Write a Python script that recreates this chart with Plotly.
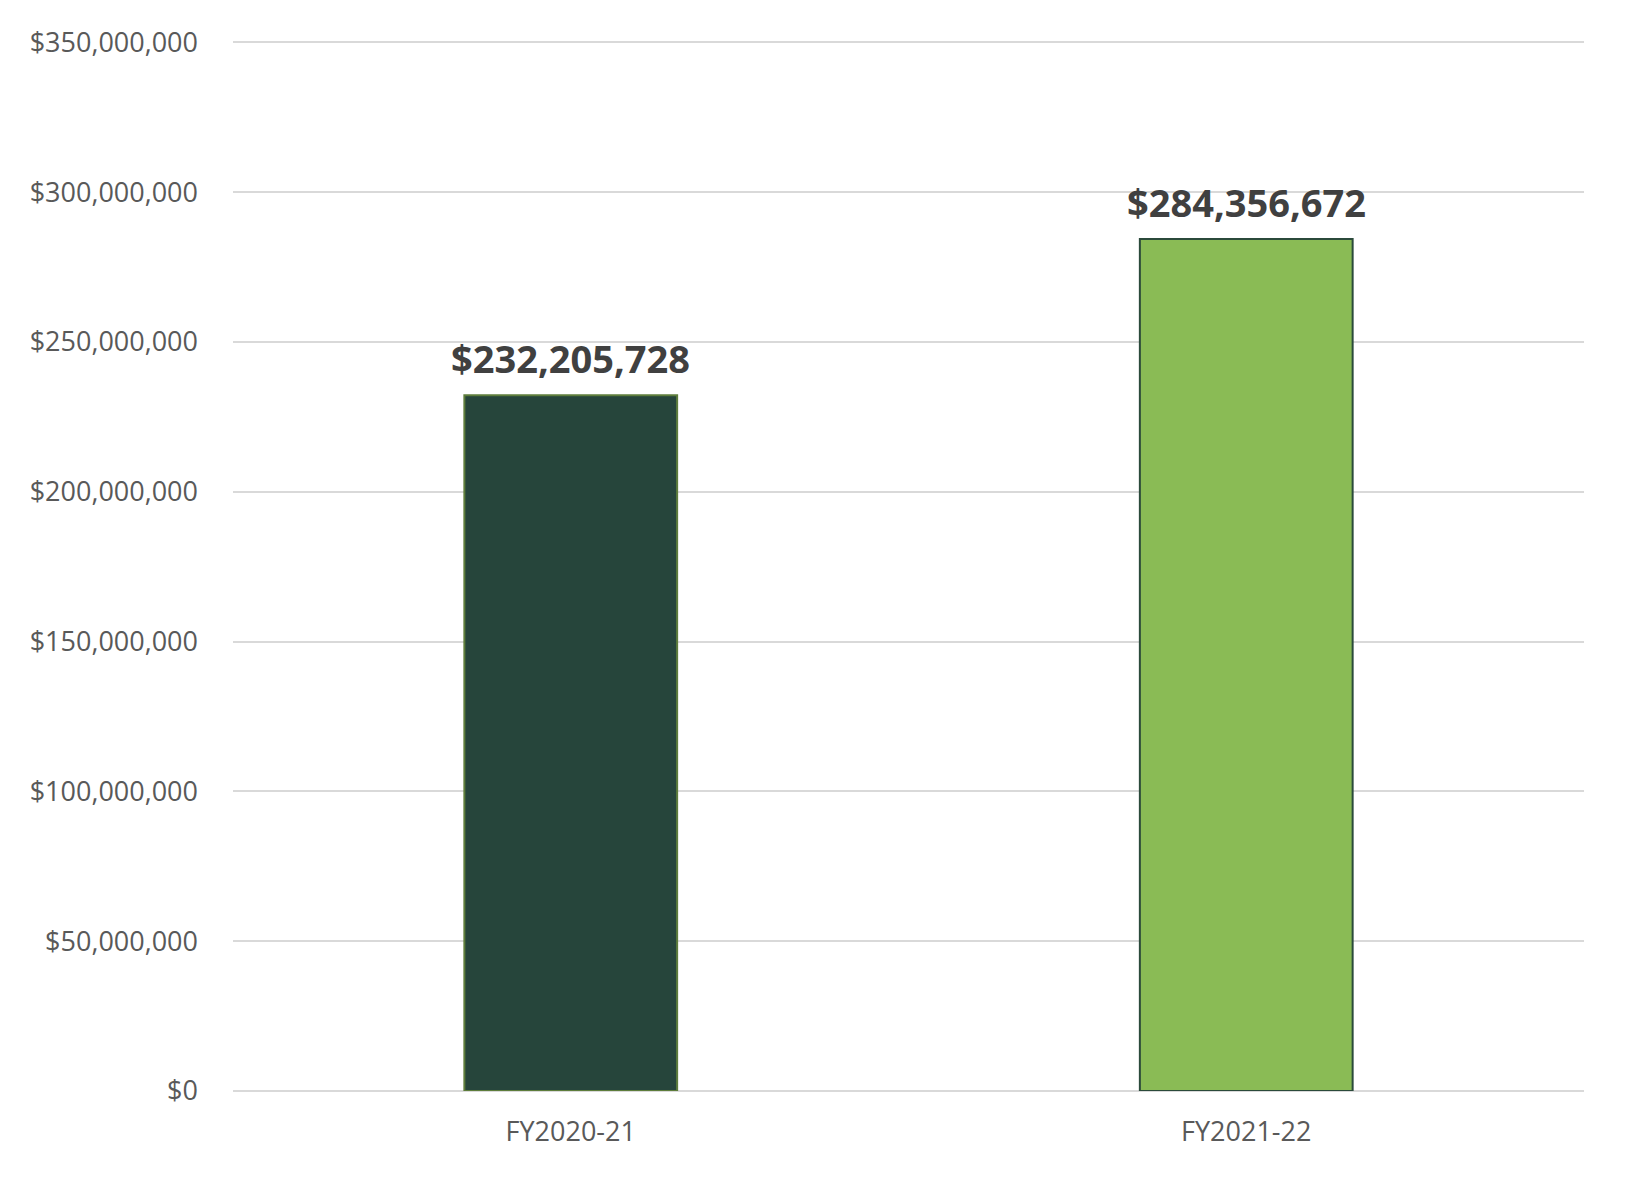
import plotly.graph_objects as go

# Data ------------------------------------------------------------------------
years = ['FY2020-21', 'FY2021-22']
amounts = [232205728, 284356672]
bar_colors = ['#26453b', '#8abb55']
edge_colors = ['#5e7d3c', '#2b4a3b']
tick_vals = [0, 50e6, 100e6, 150e6, 200e6, 250e6, 300e6, 350e6]
tick_text = ['$0', '$50,000,000', '$100,000,000', '$150,000,000',
             '$200,000,000', '$250,000,000', '$300,000,000', '$350,000,000']

# Plot ------------------------------------------------------------------------
fig = go.Figure()
fig.add_trace(go.Bar(
    x=years, y=amounts,
    marker=dict(color=bar_colors, line=dict(color=edge_colors, width=2)),
    width=0.315, showlegend=False
))
# Value labels above bars -----------------------------------------------------
for yr, amt in zip(years, amounts):
    fig.add_annotation(
        x=yr, y=amt, text='<b>${:,}</b>'.format(amt),
        showarrow=False, yanchor='bottom', yshift=9,
        font=dict(family='Open Sans', size=38, color='#404040')
    )
fig.update_layout(
    width=1626, height=1184,
    plot_bgcolor='white', paper_bgcolor='white',
    margin=go.layout.Margin(l=225, r=50, t=32, b=101, pad=0),
    font=dict(family='Open Sans', size=27, color='#595959')
)
fig.update_yaxes(
    range=[0, 350.8e6], tickvals=tick_vals, ticktext=tick_text,
    showgrid=True, gridcolor='#d9d9d9', gridwidth=2,
    zeroline=True, zerolinecolor='#d9d9d9', zerolinewidth=2,
    showline=False, ticklabelstandoff=34,
    tickfont=dict(family='Open Sans', size=27, color='#595959')
)
fig.update_xaxes(
    showgrid=False, showline=False, ticklabelstandoff=22,
    tickfont=dict(family='Open Sans', size=27, color='#595959')
)
fig.write_html('out.html')
